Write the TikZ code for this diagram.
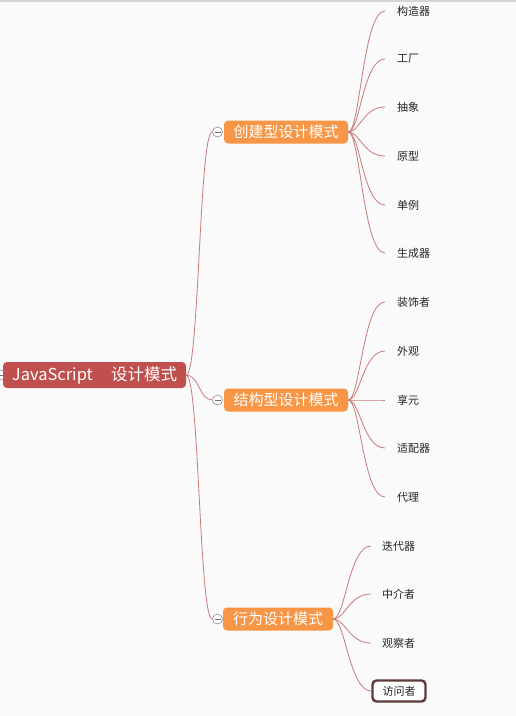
\documentclass[tikz,border=0pt]{standalone}
\usepackage{fontspec}
\newfontfamily\cjk{Noto Sans CJK SC}
\definecolor{bg}{HTML}{FAFAFA}
\definecolor{rootc}{HTML}{C0504D}
\definecolor{branchc}{HTML}{F79646}
\definecolor{linkc}{HTML}{C87A7A}
\definecolor{selc}{HTML}{5E3B3B}
\definecolor{topc}{HTML}{D6D6D6}
\tikzset{
  rootbox/.style={fill=rootc, text=white, rounded corners=4pt, font=\cjk\fontsize{16.5}{18}\selectfont, minimum width=183pt, minimum height=26pt, inner sep=0pt},
  branchbox/.style={fill=branchc, text=white, rounded corners=4pt, font=\cjk\fontsize{15}{17}\selectfont, minimum height=23pt, inner sep=0pt},
  leaf/.style={anchor=west, inner sep=0pt, text=black!85, font=\cjk\fontsize{11}{13}\selectfont},
  selbox/.style={draw=selc, line width=2.4pt, fill=white, rounded corners=4pt, inner sep=0pt, minimum width=53pt, minimum height=21pt, text=black!85, font=\cjk\fontsize{11}{13}\selectfont},
  toggle/.style={circle, draw=black!45, fill=white, line width=0.6pt, minimum size=10pt, inner sep=0pt,
    path picture={\draw[black!55, line width=0.6pt] ([xshift=-3pt]path picture bounding box.center) -- ([xshift=3pt]path picture bounding box.center);}},
  link/.style={draw=linkc, line width=0.8pt},
}
\begin{document}
\begin{tikzpicture}[x=1pt,y=-1pt]
\fill[bg] (0,0) rectangle (516,716);
\useasboundingbox (0,0) rectangle (516,716);
\draw[topc, line width=1.5pt] (0,0.75) -- (516,0.75);

% root
\node[toggle] (t0) at (1,375) {};
\node[rootbox] (root) at (94.5,375) {JavaScript\hspace{1.1em}设计模式};

% branches
\node[branchbox, minimum width=124pt] (b1) at (286,132) {创建型设计模式};
\node[branchbox, minimum width=124pt] (b2) at (286,400) {结构型设计模式};
\node[branchbox, minimum width=110pt] (b3) at (278,619) {行为设计模式};
\node[toggle] (t1) at (217.5,132) {};
\node[toggle] (t2) at (217.5,400) {};
\node[toggle] (t3) at (217.5,619) {};

\foreach \t in {t1,t2,t3}
  \draw[link] (root.east) .. controls +(13,0) and +(-13,0) .. (\t.west);

% leaves of branch 1
\node[leaf] (a1) at (397,11) {构造器};
\node[leaf] (a2) at (397,59) {工厂};
\node[leaf] (a3) at (397,107) {抽象};
\node[leaf] (a4) at (397,156) {原型};
\node[leaf] (a5) at (397,205) {单例};
\node[leaf] (a6) at (397,253) {生成器};
\foreach \l in {a1,a2,a3,a4,a5,a6}
  \draw[link] (b1.east) .. controls +(12,0) and +(-22,0) .. ([xshift=-12pt]\l.west);

% leaves of branch 2
\node[leaf] (s1) at (397,302) {装饰者};
\node[leaf] (s2) at (397,351) {外观};
\node[leaf] (s3) at (397,400) {享元};
\node[leaf] (s4) at (397,448) {适配器};
\node[leaf] (s5) at (397,497) {代理};
\foreach \l in {s1,s2,s3,s4,s5}
  \draw[link] (b2.east) .. controls +(12,0) and +(-22,0) .. ([xshift=-12pt]\l.west);

% leaves of branch 3
\node[leaf] (v1) at (382,546) {迭代器};
\node[leaf] (v2) at (382,594) {中介者};
\node[leaf] (v3) at (382,643) {观察者};
\node[selbox] (v4) at (399,691) {访问者};
\foreach \l in {v1,v2,v3}
  \draw[link] (b3.east) .. controls +(12,0) and +(-22,0) .. ([xshift=-11pt]\l.west);
\draw[link] (b3.east) .. controls +(12,0) and +(-22,0) .. (v4.west);
\end{tikzpicture}
\end{document}
